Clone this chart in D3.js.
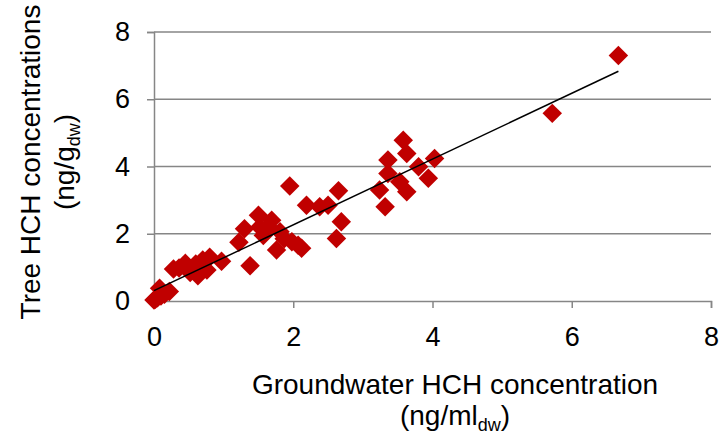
<!DOCTYPE html>
<html>
<head>
<meta charset="utf-8">
<script src="https://cdn.jsdelivr.net/npm/d3@7"></script>
<style>
  body { margin: 0; background: #fff; }
  svg { display: block; font-family: Arial, "Liberation Sans", sans-serif; }
</style>
</head>
<body>
<div id="canvas"></div>
<script>
// groundwater concentration (ng/ml dw)
const groundwater = [
  0.00, 0.02, 0.05, 0.08, 0.10, 0.15, 0.22, 0.28, 0.36, 0.45,
  0.52, 0.60, 0.63, 0.70, 0.76, 0.80, 0.97, 1.22, 1.30, 1.38,
  1.50, 1.52, 1.57, 1.65, 1.69, 1.76, 1.81, 1.87, 1.98, 2.07,
  2.12, 1.95, 2.19, 2.38, 2.50, 2.65, 2.69, 2.62, 3.24, 3.32,
  3.36, 3.36, 3.53, 3.58, 3.63, 3.63, 3.80, 3.94, 4.03, 5.72,
  6.67
];
// tree concentration (ng/g dw)
const tree = [
  0.03, 0.05, 0.10, 0.38, 0.15, 0.20, 0.28, 0.95, 0.98, 1.12,
  0.85, 1.10, 0.75, 1.22, 0.92, 1.30, 1.18, 1.75, 2.15, 1.05,
  2.55, 2.20, 1.95, 2.20, 2.40, 1.52, 2.06, 1.85, 1.76, 1.66,
  1.57, 3.42, 2.85, 2.80, 2.85, 3.28, 2.36, 1.86, 3.30, 2.80,
  3.79, 4.19, 3.55, 4.78, 4.39, 3.25, 3.99, 3.65, 4.24, 5.58,
  7.30
];
const xTicks = [0, 2, 4, 6, 8];
const yTicks = [0, 2, 4, 6, 8];

const data = groundwater.map((g, i) => ({ x: g, y: tree[i] }));

const width = 721, height = 434;
const margin = { top: 32, left: 154, bottom: 133, right: 10 };

const svg = d3.select("#canvas").append("svg")
  .attr("width", width)
  .attr("height", height);

const x = d3.scaleLinear().domain([0, 8]).range([margin.left, 711]);
const y = d3.scaleLinear().domain([0, 8]).range([301, margin.top]);

const axisColor = "#868686";

// horizontal gridlines
svg.append("g")
  .selectAll("line")
  .data(yTicks.filter(d => d > 0))
  .enter()
  .append("line")
  .attr("x1", x(0)).attr("x2", x(8))
  .attr("y1", d => y(d)).attr("y2", d => y(d))
  .attr("stroke", axisColor)
  .attr("stroke-width", 1.5);

// y axis
const yAxis = svg.append("g")
  .attr("transform", `translate(${x(0)},0)`)
  .call(d3.axisLeft(y).tickValues(yTicks).tickSize(7).tickPadding(17));

// x axis
const xAxis = svg.append("g")
  .attr("transform", `translate(0,${y(0)})`)
  .call(d3.axisBottom(x).tickValues(xTicks).tickSize(7).tickPadding(19));

[xAxis, yAxis].forEach(a => {
  a.select(".domain").attr("stroke", axisColor).attr("stroke-width", 1.5);
  a.selectAll(".tick line").attr("stroke", axisColor).attr("stroke-width", 1.5);
  a.selectAll(".tick text")
    .attr("fill", "#000")
    .style("font-size", "27px")
    .style("font-family", "Arial, 'Liberation Sans', sans-serif");
});

// markers
const diamond = d3.symbol().type(d3.symbolSquare).size(190);
svg.append("g")
  .selectAll("path")
  .data(data)
  .enter()
  .append("path")
  .attr("d", diamond)
  .attr("transform", d => `translate(${x(d.x)},${y(d.y)}) rotate(45)`)
  .attr("fill", "#C00000");

// linear trendline (least squares)
const mx = d3.mean(data, d => d.x), my = d3.mean(data, d => d.y);
const slope = d3.sum(data, d => (d.x - mx) * (d.y - my)) / d3.sum(data, d => (d.x - mx) ** 2);
const icpt = my - slope * mx;
const [xmin, xmax] = d3.extent(data, d => d.x);
svg.append("line")
  .attr("x1", x(xmin)).attr("y1", y(icpt + slope * xmin))
  .attr("x2", x(xmax)).attr("y2", y(icpt + slope * xmax))
  .attr("stroke", "#000")
  .attr("stroke-width", 1.5);

// axis titles
const titleSize = 28;
const yt = svg.append("g").attr("transform", "translate(40,162) rotate(-90)");
yt.append("text").attr("text-anchor", "middle").style("font-size", titleSize + "px")
  .text("Tree HCH concentrations");
const yt2 = yt.append("text").attr("text-anchor", "middle").attr("y", 34)
  .style("font-size", titleSize + "px");
yt2.append("tspan").text("(ng/g");
yt2.append("tspan").attr("dy", 6).style("font-size", "18px").text("dw");
yt2.append("tspan").attr("dy", -6).text(")");

const xt = svg.append("g").attr("transform", "translate(455,394)");
xt.append("text").attr("text-anchor", "middle").style("font-size", titleSize + "px")
  .text("Groundwater HCH concentration");
const xt2 = xt.append("text").attr("text-anchor", "middle").attr("y", 31)
  .style("font-size", titleSize + "px");
xt2.append("tspan").text("(ng/ml");
xt2.append("tspan").attr("dy", 6).style("font-size", "18px").text("dw");
xt2.append("tspan").attr("dy", -6).text(")");
</script>
</body>
</html>
